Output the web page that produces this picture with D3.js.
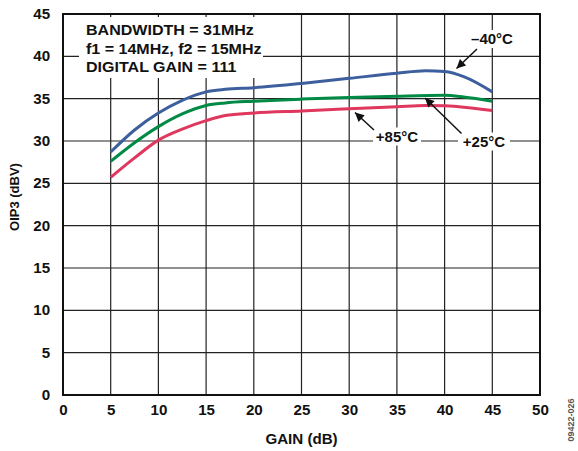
<!DOCTYPE html>
<html><head><meta charset="utf-8">
<script src="https://cdn.jsdelivr.net/npm/d3@7"></script>
<style>body{margin:0;background:#fff}svg{display:block}text{font-family:"Liberation Sans",Arial,sans-serif;font-weight:bold}</style>
</head><body><svg id="c" width="578" height="451"></svg>
<script>
const xTicks=[0,5,10,15,20,25,30,35,40,45,50];
const yTicks=[0,5,10,15,20,25,30,35,40,45];
const gainM40=[5,7.5,10,12.5,15,17,20,25,30,35,38,40,42,45];
const oipM40=[28.7,31.3,33.3,34.8,35.8,36.1,36.3,36.8,37.4,38.0,38.3,38.2,37.6,35.8];
const gain25=[5,7.5,10,12.5,15,17,20,25,30,35,40,42,45];
const oip25=[27.6,29.8,31.7,33.2,34.2,34.5,34.7,34.95,35.15,35.3,35.4,35.2,34.7];
const gain85=[5,7.5,10,12.5,15,17,20,25,30,35,38,40,42,45];
const oip85=[25.7,28.0,30.1,31.4,32.4,33.0,33.3,33.55,33.8,34.05,34.2,34.15,34.0,33.6];
const noteLines=["BANDWIDTH = 31MHz","f1 = 14MHz, f2 = 15MHz","DIGITAL GAIN = 111"];

const svg=d3.select("#c");
const L=63,R=540,T=14,B=395;
const x=d3.scaleLinear().domain([0,50]).range([L,R]);
const y=d3.scaleLinear().domain([0,45]).range([B,T]);

// grid
const g=svg.append("g");
g.selectAll(".vx").data(xTicks.slice(1,-1)).join("line")
 .attr("x1",d=>x(d)).attr("x2",d=>x(d)).attr("y1",T).attr("y2",B)
 .attr("stroke","#222").attr("stroke-width",1.2);
g.selectAll(".hy").data(yTicks.slice(1,-1)).join("line")
 .attr("y1",d=>y(d)).attr("y2",d=>y(d)).attr("x1",L).attr("x2",R)
 .attr("stroke","#222").attr("stroke-width",1.2);

// axes
const xa=svg.append("g").attr("transform",`translate(0,${B})`).call(d3.axisBottom(x).tickValues(xTicks).tickSize(0).tickPadding(10));
xa.select(".domain").remove();
xa.selectAll("text").attr("font-size",14).attr("fill","#111").attr("font-family","Liberation Sans, Arial, sans-serif").attr("font-weight","bold").attr("transform","scale(1.08,1)");
const ya=svg.append("g").attr("transform",`translate(${L},0)`).call(d3.axisLeft(y).tickValues(yTicks).tickSize(0).tickPadding(12));
ya.select(".domain").remove();
ya.selectAll("text").attr("font-size",14).attr("fill","#111").attr("font-family","Liberation Sans, Arial, sans-serif").attr("font-weight","bold").attr("transform","scale(1.08,1)");

// note box
svg.append("rect").attr("x",79).attr("y",17).attr("width",184).attr("height",61).attr("fill","#fff");
svg.append("g").selectAll("text").data(noteLines).join("text")
 .attr("transform",(d,i)=>`translate(86,${35+i*18.6}) scale(1.07,1)`).attr("font-size",15).attr("fill","#111").text(d=>d);

// curves
const line=d3.line().x(d=>x(d[0])).y(d=>y(d[1])).curve(d3.curveMonotoneX);
const series=[
 {g:gain85,v:oip85,c:"#e0375e"},
 {g:gain25,v:oip25,c:"#008a45"},
 {g:gainM40,v:oipM40,c:"#3d5f9e"}];
svg.append("g").selectAll("path").data(series).join("path")
 .attr("d",s=>line(s.g.map((gg,i)=>[gg,s.v[i]])))
 .attr("fill","none").attr("stroke",s=>s.c).attr("stroke-width",3).attr("stroke-linecap","butt");

// annotations
const defs=svg.append("defs");
defs.append("marker").attr("id","ah").attr("viewBox","0 0 10 10").attr("refX",10).attr("refY",5)
 .attr("markerWidth",14).attr("markerHeight",9).attr("markerUnits","userSpaceOnUse").attr("orient","auto")
 .append("path").attr("d","M0,0 L10,5 L0,10 Z").attr("fill","#111");
const notes=[
 {t:"–40°C",tx:492,ty:44,x1:477,y1:49,x2:456.5,y2:68.5,bw:46},
 {t:"+85°C",tx:397,ty:141.5,x1:374,y1:130,x2:355,y2:112.5,bw:48},
 {t:"+25°C",tx:484,ty:146.5,x1:461.5,y1:133.5,x2:425,y2:98,bw:52}];
notes.forEach(n=>{
 svg.append("rect").attr("x",n.tx-n.bw/2).attr("y",n.ty-14).attr("width",n.bw).attr("height",18).attr("fill","#fff");
 svg.append("text").attr("x",n.tx).attr("y",n.ty).attr("text-anchor","middle").attr("font-size",15).attr("fill","#111").text(n.t);
 svg.append("line").attr("x1",n.x1).attr("y1",n.y1).attr("x2",n.x2).attr("y2",n.y2)
  .attr("stroke","#111").attr("stroke-width",1.5).attr("marker-end","url(#ah)");
});

// frame
svg.append("rect").attr("x",L).attr("y",T).attr("width",R-L).attr("height",B-T)
 .attr("fill","none").attr("stroke","#111").attr("stroke-width",2);

// labels
svg.append("text").attr("transform",`translate(${(L+R)/2},444) scale(1.08,1)`).attr("text-anchor","middle").attr("font-size",14).attr("fill","#111").text("GAIN (dB)");
svg.append("text").attr("transform","translate(19,197) rotate(-90)").attr("text-anchor","middle").attr("font-size",13).attr("fill","#111").text("OIP3 (dBV)");
svg.append("text").attr("transform","translate(574,420) rotate(-90)").attr("text-anchor","middle").attr("font-size",9).attr("font-weight","normal").attr("fill","#555").text("09422-026");
</script></body></html>
